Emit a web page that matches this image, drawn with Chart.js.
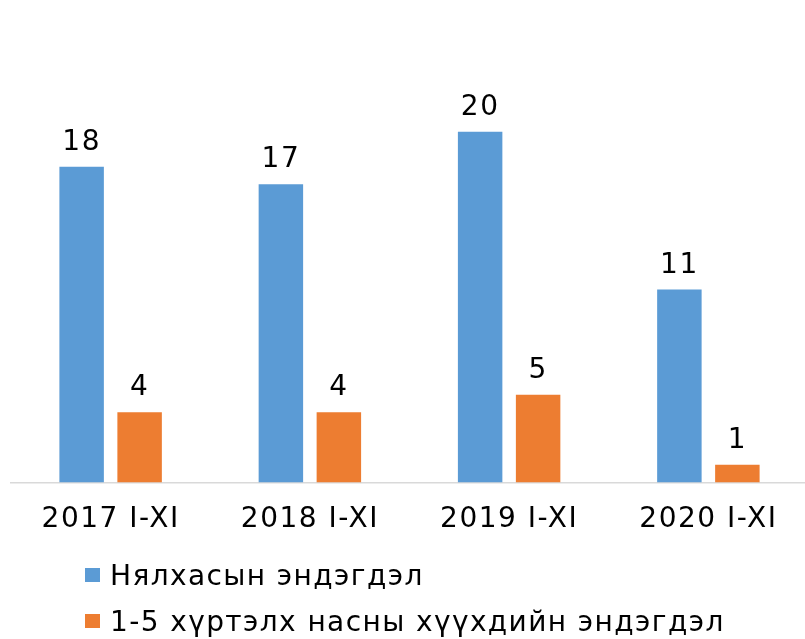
<!DOCTYPE html>
<html>
<head>
<meta charset="utf-8">
<title>Эндэгдэл</title>
<script src="https://cdn.jsdelivr.net/npm/chart.js@4/dist/chart.umd.min.js"></script>
<style>
    html, body { margin: 0; padding: 0; background: #fff; overflow: hidden; }
    #wrap { position: relative; width: 808px; height: 639px; }
    #chartBox { position: absolute; left: 0; top: 0; width: 808px; height: 566px; }
    #legend { position: absolute; left: 85px; top: 560px; font-family: "DejaVu Sans", sans-serif; font-size: 28px; letter-spacing: 1.4px; color: #000; }
    #legend .item { display: flex; align-items: center; height: 30px; margin-bottom: 16px; }
    #legend .box { width: 15px; height: 14px; margin-right: 10px; }
</style>
</head>
<body>
<div id="wrap">
    <div id="chartBox"><canvas id="bar-chart"></canvas></div>
    <div id="legend"></div>
</div>
<script>
    // data
    var categories = ['2017 I-XI', '2018 I-XI', '2019 I-XI', '2020 I-XI'];
    var infantDeaths = [18, 17, 20, 11];
    var childDeaths = [4, 4, 5, 1];
    var seriesNames = ['Нялхасын эндэгдэл', '1-5 хүртэлх насны хүүхдийн эндэгдэл'];
    var seriesColors = ['#5B9BD5', '#ED7D31'];

    var fontName = '"DejaVu Sans", sans-serif';

    /* the original text is a bit wide, so space the letters out */
    var wideText = {
        id: 'wideText',
        beforeDraw: function (chart) {
            chart.ctx.letterSpacing = '1.5px';
        }
    };

    /* value labels above the bars */
    var valueLabels = {
        id: 'valueLabels',
        afterDatasetsDraw: function (chart) {
            var ctx = chart.ctx;
            ctx.save();
            ctx.letterSpacing = '1.5px';
            ctx.font = '28px ' + fontName;
            ctx.fillStyle = '#000';
            ctx.textAlign = 'center';
            ctx.textBaseline = 'alphabetic';
            chart.data.datasets.forEach(function (ds, i) {
                chart.getDatasetMeta(i).data.forEach(function (bar, j) {
                    ctx.fillText(ds.data[j], bar.x, bar.y - 17);
                });
            });
            ctx.restore();
        }
    };

    var config = {
        type: 'bar',
        data: {
            labels: categories,
            datasets: [{
                label: seriesNames[0],
                data: infantDeaths,
                backgroundColor: seriesColors[0]
            }, {
                label: seriesNames[1],
                data: childDeaths,
                backgroundColor: seriesColors[1]
            }]
        },
        options: {
            responsive: true,
            maintainAspectRatio: false,
            animation: false,
            categoryPercentage: 0.582,
            barPercentage: 0.767,
            layout: { padding: { left: 11, right: 0, top: 44, bottom: 8 } },
            plugins: {
                legend: { display: false },
                tooltip: { enabled: false }
            },
            scales: {
                x: {
                    grid: { display: false, drawTicks: false },
                    border: { display: true, color: '#D9D9D9', width: 1.5 },
                    ticks: {
                        color: '#000',
                        padding: 21,
                        font: { family: fontName, size: 28 }
                    }
                },
                y: {
                    display: false,
                    min: 0,
                    max: 25
                }
            }
        },
        plugins: [wideText, valueLabels]
    };

    var chart = new Chart(document.getElementById('bar-chart'), config);

    /* legend drawn as html, stacked like the original */
    var legendEl = document.getElementById('legend');
    chart.data.datasets.forEach(function (ds) {
        var item = document.createElement('div');
        item.className = 'item';
        var box = document.createElement('span');
        box.className = 'box';
        box.style.background = ds.backgroundColor;
        var txt = document.createElement('span');
        txt.textContent = ds.label;
        item.appendChild(box);
        item.appendChild(txt);
        legendEl.appendChild(item);
    });
</script>
</body>
</html>
